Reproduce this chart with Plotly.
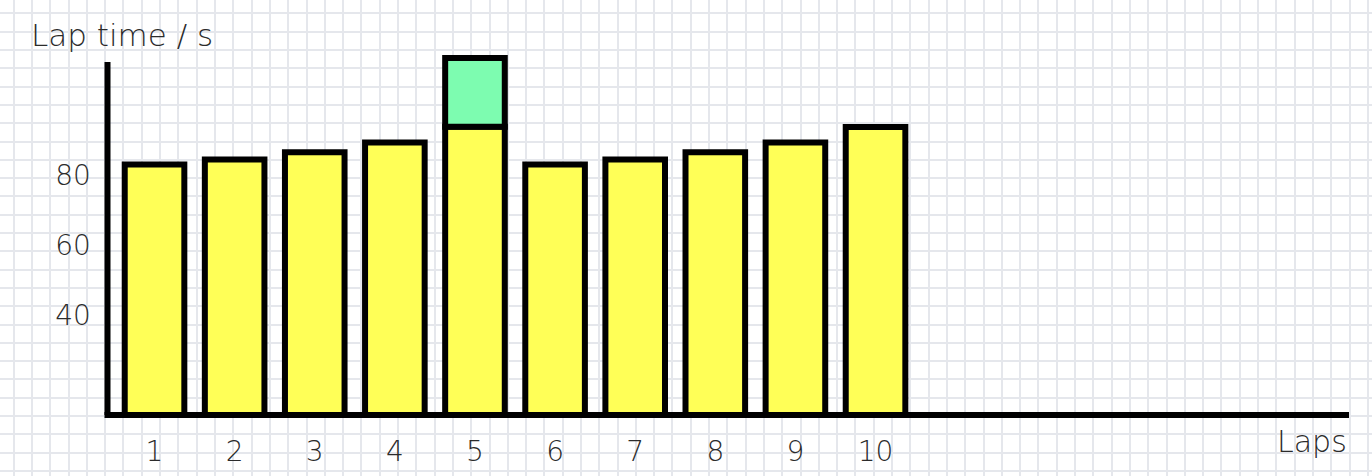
import plotly.graph_objects as go

# ---- data ----
laps = [1, 2, 3, 4, 5, 6, 7, 8, 9, 10]
lap_times = [83.0, 84.4, 86.5, 89.3, 93.8, 83.0, 84.4, 86.5, 89.3, 93.7]
extra_laps = [5]
extra_times = [19.6]
x_tick_labels = [str(v) for v in laps]
y_ticks = [40, 60, 80]
y_title = "Lap time / s"
x_title = "Laps"

# ---- layout geometry ----
W, H = 1372, 476
x_range = [0.413, 15.91]
y_range = [11.43, 115.7]
y_axis_top = 112.3
x_dom = [107.5 / W, 1349 / W]
y_dom = [(H - 415) / H, (H - 50) / H]

FONT = "DejaVu Sans"
TXT = "#2b2b2b"
YELLOW = "#ffff57"
GREEN = "#7dfcb0"
GRID = "#e5e7ec"

fig = go.Figure()
fig.add_trace(go.Bar(
    x=laps, y=lap_times, width=0.744,
    marker=dict(color=YELLOW, line=dict(color="black", width=6)),
    hoverinfo="x+y", showlegend=False,
))
fig.add_trace(go.Bar(
    x=extra_laps, y=extra_times, width=0.744,
    base=[lap_times[laps.index(v)] for v in extra_laps],
    marker=dict(color=GREEN, line=dict(color="black", width=6)),
    hoverinfo="x+y", showlegend=False,
))

# background grid paper (decoration)
shapes = []
step = 18.3
gx = 13.7
while gx < W:
    px = round(gx)
    shapes.append(dict(type="line", xref="paper", yref="paper",
                       x0=px / W, x1=px / W, y0=0, y1=1, layer="below",
                       line=dict(color=GRID, width=2)))
    gx += step
gy = 13.4
while gy < H:
    py = round(gy)
    shapes.append(dict(type="line", xref="paper", yref="paper",
                       x0=0, x1=1, y0=1 - py / H, y1=1 - py / H, layer="below",
                       line=dict(color=GRID, width=2)))
    gy += step

# axis lines
def ypaper(v):
    return y_dom[0] + (v - y_range[0]) / (y_range[1] - y_range[0]) * (y_dom[1] - y_dom[0])

shapes.append(dict(type="line", xref="paper", yref="paper",
                   x0=x_dom[0] - 3 / W, x1=x_dom[1], y0=y_dom[0], y1=y_dom[0],
                   layer="above", line=dict(color="black", width=6)))
shapes.append(dict(type="line", xref="paper", yref="paper",
                   x0=x_dom[0], x1=x_dom[0], y0=y_dom[0], y1=ypaper(y_axis_top),
                   layer="above", line=dict(color="black", width=6)))

tick_font = dict(size=28, family=FONT, color=TXT, weight=300)

fig.update_layout(
    width=W, height=H,
    margin=dict(l=0, r=0, t=0, b=0),
    paper_bgcolor="white", plot_bgcolor="rgba(0,0,0,0)",
    barmode="overlay",
    shapes=shapes,
    font=dict(family=FONT, color=TXT),
    xaxis=dict(domain=x_dom, range=x_range, tickmode="array",
               tickvals=laps, ticktext=x_tick_labels,
               showgrid=False, zeroline=False, showline=False,
               ticks="outside", ticklen=11, tickcolor="rgba(0,0,0,0)",
               tickfont=tick_font),
    yaxis=dict(domain=y_dom, range=y_range, tickmode="array",
               tickvals=y_ticks, ticktext=[str(v) for v in y_ticks],
               showgrid=False, zeroline=False, showline=False,
               ticks="outside", ticklen=10, tickcolor="rgba(0,0,0,0)",
               tickfont=tick_font),
    annotations=[
        dict(text=y_title, xref="paper", yref="paper", x=29 / W, y=1 - 35 / H,
             xanchor="left", yanchor="middle", showarrow=False,
             font=dict(size=31, family=FONT, color=TXT, weight=300)),
        dict(text=x_title, xref="paper", yref="paper", x=1349 / W, y=1 - 441 / H,
             xanchor="right", yanchor="middle", showarrow=False,
             font=dict(size=30, family=FONT, color=TXT, weight=300)),
    ],
)

fig.write_html("out.html", config={"displayModeBar": False},
               post_script="document.body.style.margin='0';")
